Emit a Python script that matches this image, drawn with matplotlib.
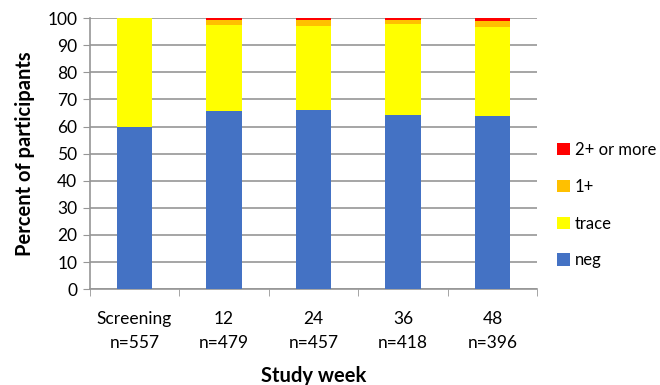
import numpy as np
import matplotlib
matplotlib.use("Agg")
import matplotlib.pyplot as plt

plt.rcParams["font.family"] = ["Lato", "DejaVu Sans"]

# values
weeks = ["Screening\nn=557", "12\nn=479", "24\nn=457", "36\nn=418", "48\nn=396"]
neg = [59.8, 65.6, 66.2, 64.1, 64.0]
trace = [40.2, 32.0, 30.9, 33.8, 32.7]
one_plus = [0.0, 1.7, 2.2, 1.5, 2.3]
two_plus = [0.0, 0.7, 0.7, 0.6, 1.0]

series = [("neg", neg, "#4472C4"),
          ("trace", trace, "#FFFF00"),
          ("1+", one_plus, "#FFC000"),
          ("2+ or more", two_plus, "#FF0000")]

fig = plt.figure(figsize=(6.6, 3.85), dpi=100)
ax = fig.add_axes([0.136, 0.249, 0.678, 0.704])

x = np.arange(len(weeks))
bottom = np.zeros(len(weeks))
handles = []
for name, vals, col in series:
    b = ax.bar(x, vals, 0.4, bottom=bottom, color=col, label=name, zorder=3)
    bottom += np.array(vals)
    handles.append(b)

ax.set_ylim(0, 100)
ax.set_xlim(-0.5, len(weeks) - 0.5)
ax.set_yticks(range(0, 101, 10))
ax.yaxis.grid(True, color="#969696", linewidth=1.2, zorder=0)
ax.tick_params(axis="y", labelsize=12.5, length=5, color="#969696", pad=4)

ax.set_xticks(x)
ax.set_xticklabels(weeks, fontsize=12.5, linespacing=1.55)
ax.tick_params(axis="x", length=0, pad=16)
ax.set_xticks(np.arange(-0.5, len(weeks), 1), minor=True)
ax.tick_params(axis="x", which="minor", length=5, color="#969696")

for s in ["top", "right"]:
    ax.spines[s].set_visible(False)
for s in ["left", "bottom"]:
    ax.spines[s].set_color("#969696")
    ax.spines[s].set_linewidth(1.2)

ax.set_ylabel("Percent of participants", fontsize=14.5, fontweight="bold", labelpad=9)
ax.set_xlabel("Study week", fontsize=14.5, fontweight="bold", labelpad=11)

ax.legend(handles[::-1], [s[0] for s in series][::-1], loc="center left",
          bbox_to_anchor=(1.03, 0.31), frameon=False, fontsize=12,
          handlelength=0.75, handleheight=0.75, handletextpad=0.3,
          labelspacing=1.25, borderaxespad=0)

fig.savefig("out.png", dpi=100)
